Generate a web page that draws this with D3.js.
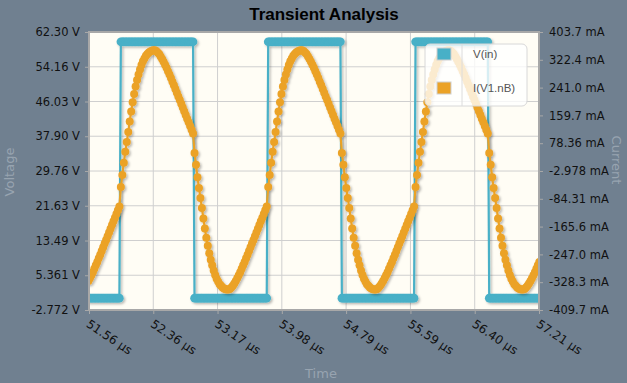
<!DOCTYPE html>
<html>
<head>
<meta charset="utf-8">
<script src="https://cdn.jsdelivr.net/npm/d3@7"></script>
<style>
  body { margin: 0; background: #708090; }
  svg { display: block; font-family: "DejaVu Sans", sans-serif; }
</style>
</head>
<body>
<svg id="chart"></svg>
<script>
// simulator print step (µs) - samples are evenly spaced in time
var t0 = 51.55, dt = 0.0185

var vIn = [
  0,0,0,0,0,0,0,0,0,0,0,0,0,0,0,0,0,0,0,0,0,0,
  60,60,60,60,60,60,60,60,60,60,60,60,60,60,60,60,60,60,60,60,60,60,60,60,60,
  60,60,60,60,60,60,60,60,60,60,60,60,60,60,60,60,60,60,60,60,60,60,60,60,60,
  0,0,0,0,0,0,0,0,0,0,0,0,0,0,0,0,0,0,0,0,0,0,0,0,0,
  0,0,0,0,0,0,0,0,0,0,0,0,0,0,0,0,0,0,0,0,0,0,0,0,0,
  60,60,60,60,60,60,60,60,60,60,60,60,60,60,60,60,60,60,60,60,60,60,60,60,60,
  60,60,60,60,60,60,60,60,60,60,60,60,60,60,60,60,60,60,60,60,60,60,60,60,60,
  0,0,0,0,0,0,0,0,0,0,0,0,0,0,0,0,0,0,0,0,0,0,0,0,0,
  0,0,0,0,0,0,0,0,0,0,0,0,0,0,0,0,0,0,0,0,0,0,0,0,0,
  60,60,60,60,60,60,60,60,60,60,60,60,60,60,60,60,60,60,60,60,60,60,60,60,60,
  60,60,60,60,60,60,60,60,60,60,60,60,60,60,60,60,60,60,60,60,60,60,60,60,60,
  0,0,0,0,0,0,0,0,0,0,0,0,0,0,0,0,0,0,0,0,0,0,0,0,0,
  0,0,0,0,0,0,0,0,0,0
]

// mA
var iNB = [
  -325,-317,-308,-299,-289,-279,-269,-258,-248,-237,-226,-215,-205,-194,-183,-172,-161,-150,-140,-129,-118,-107,
  -50,-15,21,53,82,111,142,171,198,222,244,263,279,294,307,318,326,334,339,344,347,349,350,350,348,
  344,339,332,325,317,308,299,289,279,269,258,248,237,226,215,205,194,183,172,161,150,140,129,118,107,
  50,15,-21,-53,-82,-111,-142,-171,-198,-222,-244,-263,-279,-294,-307,-318,-326,-334,-339,-344,-347,-349,-350,-350,-348,
  -344,-339,-332,-325,-317,-308,-299,-289,-279,-269,-258,-248,-237,-226,-215,-205,-194,-183,-172,-161,-150,-140,-129,-118,-107,
  -50,-15,21,53,82,111,142,171,198,222,244,263,279,294,307,318,326,334,339,344,347,349,350,350,348,
  344,339,332,325,317,308,299,289,279,269,258,248,237,226,215,205,194,183,172,161,150,140,129,118,107,
  50,15,-21,-53,-82,-111,-142,-171,-198,-222,-244,-263,-279,-294,-307,-318,-326,-334,-339,-344,-347,-349,-350,-350,-348,
  -344,-339,-332,-325,-317,-308,-299,-289,-279,-269,-258,-248,-237,-226,-215,-205,-194,-183,-172,-161,-150,-140,-129,-118,-107,
  -50,-15,21,53,82,111,142,171,198,222,244,263,279,294,307,318,326,334,339,344,347,349,350,350,348,
  344,339,332,325,317,308,299,289,279,269,258,248,237,226,215,205,194,183,172,161,150,140,129,118,107,
  50,15,-21,-53,-82,-111,-142,-171,-198,-222,-244,-263,-279,-294,-307,-318,-326,-334,-339,-344,-347,-349,-350,-350,-348,
  -344,-339,-332,-325,-317,-308,-299,-289,-279,-269
]

var timeTicks = [51.557, 52.364, 53.171, 53.978, 54.785, 55.593, 56.400, 57.207]
var timeLabels = ["51.56 µs","52.36 µs","53.17 µs","53.98 µs","54.79 µs","55.59 µs","56.40 µs","57.21 µs"]
var voltTicks = [62.30, 54.16, 46.03, 37.90, 29.76, 21.63, 13.49, 5.361, -2.772]
var voltLabels = ["62.30 V","54.16 V","46.03 V","37.90 V","29.76 V","21.63 V","13.49 V","5.361 V","-2.772 V"]
var ampTicks = [403.7, 322.4, 241.0, 159.7, 78.36, -2.978, -84.31, -165.6, -247.0, -328.3, -409.7]
var ampLabels = ["403.7 mA","322.4 mA","241.0 mA","159.7 mA","78.36 mA","-2.978 mA","-84.31 mA","-165.6 mA","-247.0 mA","-328.3 mA","-409.7 mA"]

var seriesNames = ["V(in)", "I(V1.nB)"]
var seriesColors = ["#48b0c7", "#eba227"]

var W = 627, H = 383
var margin = {top: 32, right: 88, bottom: 73, left: 89}
var width = W - margin.left - margin.right,
    height = H - margin.top - margin.bottom

var svg = d3.select("#chart").attr("width", W).attr("height", H)

svg.append("rect").attr("width", W).attr("height", H).attr("fill", "#708090")

var defs = svg.append("defs")
var shadow = defs.append("filter").attr("id", "shadow")
    .attr("x", "-5%").attr("y", "-5%").attr("width", "110%").attr("height", "110%")
shadow.append("feDropShadow")
    .attr("dx", 1.5).attr("dy", 1.5).attr("stdDeviation", 0.8)
    .attr("flood-color", "#000").attr("flood-opacity", 0.28)
defs.append("clipPath").attr("id", "plotClip")
    .append("rect").attr("width", width).attr("height", height)

var x = d3.scaleLinear().domain([timeTicks[0], timeTicks[timeTicks.length - 1]]).range([0, width])
var yV = d3.scaleLinear().domain([-2.772, 62.30]).range([height, 0])
var yI = d3.scaleLinear().domain([-409.7, 403.7]).range([height, 0])

var g = svg.append("g").attr("transform", "translate(" + margin.left + "," + margin.top + ")")

g.append("rect").attr("width", width).attr("height", height).attr("fill", "#fffdf5")

// grid
g.append("g").selectAll("line").data(timeTicks).enter().append("line")
    .attr("x1", d => x(d)).attr("x2", d => x(d))
    .attr("y1", 0).attr("y2", height)
    .attr("stroke", "#cfcfcf").attr("stroke-width", 1)
g.append("g").selectAll("line").data(voltTicks).enter().append("line")
    .attr("x1", 0).attr("x2", width)
    .attr("y1", d => yV(d)).attr("y2", d => yV(d))
    .attr("stroke", "#cfcfcf").attr("stroke-width", 1)

var vData = vIn.map((v, i) => ({t: t0 + i * dt, val: v}))
var iData = iNB.map((v, i) => ({t: t0 + i * dt, val: v}))

var plot = g.append("g").attr("clip-path", "url(#plotClip)")

function drawSeries(data, yScale, color, r) {
    var s = plot.append("g").attr("filter", "url(#shadow)")
    s.append("path")
        .datum(data)
        .attr("fill", "none")
        .attr("stroke", color)
        .attr("stroke-width", 2.2)
        .attr("d", d3.line().x(d => x(d.t)).y(d => yScale(d.val)))
    s.selectAll("circle").data(data).enter().append("circle")
        .attr("cx", d => x(d.t))
        .attr("cy", d => yScale(d.val))
        .attr("r", r)
        .attr("fill", color)
}
drawSeries(vData, yV, seriesColors[0], 4.3)
drawSeries(iData, yI, seriesColors[1], 4)

// frame
g.append("rect").attr("width", width).attr("height", height)
    .attr("fill", "none").attr("stroke", "#a8a8a8").attr("stroke-width", 2)

// axes
var leftAxis = g.append("g")
    .call(d3.axisLeft(yV).tickValues(voltTicks).tickFormat((d, i) => voltLabels[i]).tickSize(4).tickPadding(5))
var rightAxis = g.append("g").attr("transform", "translate(" + width + ",0)")
    .call(d3.axisRight(yI).tickValues(ampTicks).tickFormat((d, i) => ampLabels[i]).tickSize(4).tickPadding(6))
var bottomAxis = g.append("g").attr("transform", "translate(0," + height + ")")
    .call(d3.axisBottom(x).tickValues(timeTicks).tickFormat((d, i) => timeLabels[i]).tickSize(4))

;[leftAxis, rightAxis, bottomAxis].forEach(function(a) {
    a.select(".domain").remove()
    a.selectAll(".tick line").attr("stroke", "#a8a8a8")
    a.selectAll("text").attr("fill", "#111").style("font-size", "11.5px").style("font-family", "DejaVu Sans")
})

bottomAxis.selectAll("text")
    .attr("y", 0).attr("dy", 0)
    .attr("text-anchor", "start")
    .attr("transform", "translate(-4,16) rotate(34)")
    .style("font-size", "12px")

// axis titles
svg.append("text").text("Voltage")
    .attr("transform", "translate(14,172) rotate(-90)")
    .attr("text-anchor", "middle").attr("fill", "#98a4b0").style("font-size", "13px")
svg.append("text").text("Current")
    .attr("transform", "translate(612,160) rotate(90)")
    .attr("text-anchor", "middle").attr("fill", "#98a4b0").style("font-size", "13px")
svg.append("text").text("Time")
    .attr("x", 321).attr("y", 378)
    .attr("text-anchor", "middle").attr("fill", "#98a4b0").style("font-size", "13px")

svg.append("text").text("Transient Analysis")
    .attr("x", 324).attr("y", 20)
    .attr("text-anchor", "middle")
    .style("font-family", "Liberation Sans, Arial, sans-serif")
    .style("font-weight", "bold").style("font-size", "17px").attr("fill", "#000")

// legend
var legend = svg.append("g").attr("transform", "translate(425,44)")
legend.append("rect").attr("width", 102).attr("height", 62).attr("rx", 5)
    .attr("fill", "#fff").attr("fill-opacity", 0.78)
    .attr("stroke", "#d8d8d8")
legend.append("line").attr("x1", 37).attr("x2", 37).attr("y1", 0).attr("y2", 62)
    .attr("stroke", "#dcdcdc")
var items = legend.selectAll(".item").data(seriesNames).enter().append("g")
    .attr("transform", (d, i) => "translate(0," + (i * 34) + ")")
items.append("rect").attr("x", 12).attr("y", 4).attr("width", 14).attr("height", 12)
    .attr("fill", (d, i) => seriesColors[i]).attr("stroke", "#cfcfcf")
items.append("text").text(d => d)
    .attr("x", 48).attr("y", 14)
    .attr("fill", "#555")
    .style("font-family", "Liberation Sans, Arial, sans-serif").style("font-size", "11.5px")
</script>
</body>
</html>
